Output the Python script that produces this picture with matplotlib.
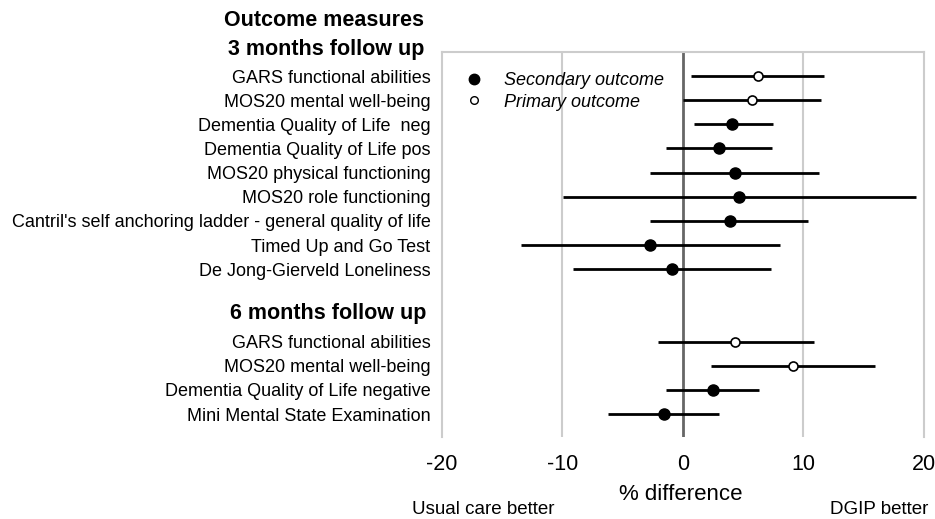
import matplotlib
matplotlib.use("Agg")
import matplotlib.pyplot as plt
from matplotlib.lines import Line2D

plt.rcParams['font.family'] = ['Liberation Sans', 'DejaVu Sans']

# 3 months follow up
labels_3m = ["GARS functional abilities", "MOS20 mental well-being",
             "Dementia Quality of Life  neg", "Dementia Quality of Life pos",
             "MOS20 physical functioning", "MOS20 role functioning",
             "Cantril's self anchoring ladder - general quality of life",
             "Timed Up and Go Test", "De Jong-Gierveld Loneliness"]
est_3m = [6.2, 5.7, 4.1, 3.0, 4.3, 4.7, 3.9, -2.7, -0.9]
lo_3m = [0.7, 0.0, 0.9, -1.4, -2.7, -9.9, -2.7, -13.4, -9.1]
hi_3m = [11.7, 11.5, 7.5, 7.4, 11.3, 19.3, 10.4, 8.1, 7.3]
primary_3m = [True, True, False, False, False, False, False, False, False]

# 6 months follow up
labels_6m = ["GARS functional abilities", "MOS20 mental well-being",
             "Dementia Quality of Life negative", "Mini Mental State Examination"]
est_6m = [4.3, 9.1, 2.5, -1.6]
lo_6m = [-2.1, 2.3, -1.4, -6.2]
hi_6m = [10.9, 15.9, 6.3, 3.0]
primary_6m = [True, True, False, False]

xticks = [-20, -10, 0, 10, 20]

fig = plt.figure(figsize=(9.35, 5.19), dpi=100)
ax = fig.add_axes([0.4724, 0.158, 0.5158, 0.742])

rows_3m = list(range(len(labels_3m)))
rows_6m = [len(labels_3m) + 2 + i for i in range(len(labels_6m))]

labels = labels_3m + labels_6m
rows = rows_3m + rows_6m
est = est_3m + est_6m
lo = lo_3m + lo_6m
hi = hi_3m + hi_6m
primary = primary_3m + primary_6m

for g in [-10, 10]:
    ax.axvline(g, color='#cccccc', lw=1.5, zorder=0)
ax.axvline(0, color='#666666', lw=2, zorder=1)

for r, e, l, h, p in zip(rows, est, lo, hi, primary):
    ax.plot([l, h], [r, r], color='black', lw=2, zorder=2, solid_capstyle='butt')
    if p:
        ax.plot(e, r, 'o', ms=6.5, mfc='white', mec='black', mew=1.2, zorder=3)
    else:
        ax.plot(e, r, 'o', ms=8, mfc='black', mec='black', zorder=3)

ax.set_xlim(-20, 20)
ax.set_ylim(14.95, -1)
ax.set_xticks(xticks)
ax.set_xticklabels([str(t) for t in xticks], fontsize=15.5)
ax.tick_params(axis='x', length=0, pad=12)
ax.set_yticks(rows)
ax.set_yticklabels(labels, fontsize=13)
ax.tick_params(axis='y', length=0, pad=8)

for s in ['top', 'left', 'right']:
    ax.spines[s].set_color('#cccccc')
    ax.spines[s].set_linewidth(1.5)
ax.spines['bottom'].set_visible(False)

# headings
fig.text(424 / 935, 1 - 21 / 519, "Outcome measures", ha='right', va='center',
         fontsize=15.5, fontweight='bold')
fig.text(424 / 935, 1 - 49 / 519, "3 months follow up", ha='right', va='center',
         fontsize=15.5, fontweight='bold')
fig.text(426 / 935, 1 - 313 / 519, "6 months follow up", ha='right', va='center',
         fontsize=15.5, fontweight='bold')

# bottom annotations
fig.text(681 / 935, 1 - 495 / 519, "% difference", ha='center', va='center', fontsize=16)
fig.text(483 / 935, 1 - 510 / 519, "Usual care better", ha='center', va='center', fontsize=13.5)
fig.text(928 / 935, 1 - 510 / 519, "DGIP better", ha='right', va='center', fontsize=13.5)

handles = [Line2D([], [], ls='none', marker='o', ms=7.5, mfc='black', mec='black'),
           Line2D([], [], ls='none', marker='o', ms=5.5, mfc='white', mec='black', mew=1)]
leg = ax.legend(handles, ["Secondary outcome", "Primary outcome"], loc='upper left',
                bbox_to_anchor=(0.005, 0.99), frameon=False, prop={'style': 'italic', 'size': 13},
                handletextpad=0.9, labelspacing=0.25, handlelength=1.5)

fig.savefig("out.png", dpi=100)
